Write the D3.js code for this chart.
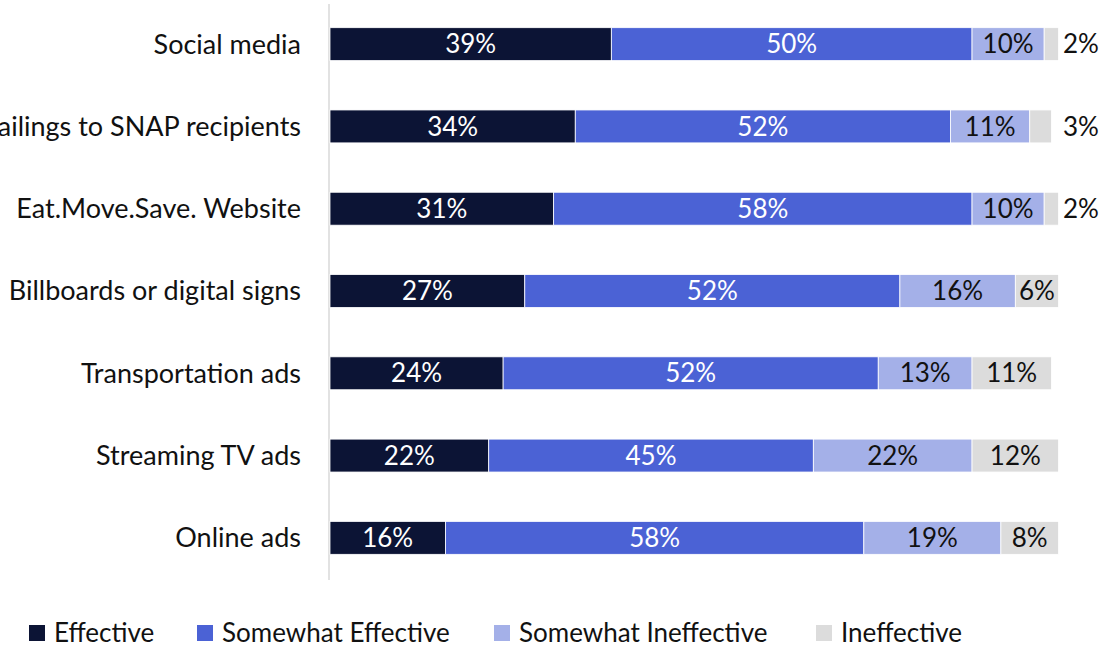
<!DOCTYPE html>
<html>
<head>
<meta charset="utf-8">
<script src="https://cdn.jsdelivr.net/npm/d3@7"></script>
<style>
  html, body { margin: 0; padding: 0; background: #fff; }
  svg { display: block; font-family: Lato, "Open Sans", sans-serif; }
</style>
</head>
<body>
<svg id="chart" width="1107" height="647"></svg>
<script>
// Channels rated for reaching SNAP audiences
const categories = [
  "Social media",
  "Direct mailings to SNAP recipients",
  "Eat.Move.Save. Website",
  "Billboards or digital signs",
  "Transportation ads",
  "Streaming TV ads",
  "Online ads"
];
const seriesNames = ["Effective", "Somewhat Effective", "Somewhat Ineffective", "Ineffective"];
const effective           = [39, 34, 31, 27, 24, 22, 16];
const somewhatEffective   = [50, 52, 58, 52, 52, 45, 58];
const somewhatIneffective = [10, 11, 10, 16, 13, 22, 19];
const ineffective         = [2, 3, 2, 6, 11, 12, 8];
const colors = ["#0c1435", "#4b62d5", "#a4b0e8", "#dcdcdc"];
const textColors = ["#ffffff", "#ffffff", "#111111", "#111111"];

const seriesValues = [effective, somewhatEffective, somewhatIneffective, ineffective];
const rows = categories.map((c, i) => {
  const r = { category: c };
  seriesNames.forEach((s, k) => r[s] = seriesValues[k][i]);
  return r;
});
const stacked = d3.stack().keys(seriesNames)(rows);

const svg = d3.select("#chart");
const xMax = 100.5;
const x = d3.scaleLinear().domain([0, xMax]).range([330, 1055]);
const y = d3.scaleBand().domain(categories).range([3, 579]).paddingInner(0.6).paddingOuter(0.3);

// category axis line
svg.append("line")
  .attr("x1", 329).attr("x2", 329)
  .attr("y1", 4).attr("y2", 580)
  .attr("stroke", "#d9d9d9").attr("stroke-width", 1.5);

// category labels
svg.append("g").selectAll("text")
  .data(categories).join("text")
  .attr("x", 301)
  .attr("y", d => y(d) + y.bandwidth() / 2)
  .attr("dy", "0.35em")
  .attr("text-anchor", "end")
  .attr("font-size", 27)
  .attr("fill", "#111")
  .text(d => d);

// stacked segments
const layers = svg.append("g").selectAll("g")
  .data(stacked).join("g")
  .attr("fill", (d, i) => colors[i]);

layers.selectAll("rect")
  .data(d => d.map(p => ({ p, cat: p.data.category })))
  .join("rect")
  .attr("x", d => x(d.p[0]))
  .attr("y", d => y(d.cat))
  .attr("width", d => x(d.p[1]) - x(d.p[0]))
  .attr("height", y.bandwidth())
  .attr("stroke", "#ffffff")
  .attr("stroke-width", 0.8);

// value labels: inside the segment when it fits, otherwise right of the bar
stacked.forEach((layer, k) => {
  svg.append("g").selectAll("text")
    .data(layer).join("text")
    .attr("font-size", 26)
    .attr("dy", "0.35em")
    .each(function(p) {
      const v = p[1] - p[0];
      const inside = v >= 5;
      const t = d3.select(this);
      const cy = y(p.data.category) + y.bandwidth() / 2;
      if (inside) {
        t.attr("x", (x(p[0]) + x(p[1])) / 2).attr("y", cy)
          .attr("text-anchor", "middle").attr("fill", textColors[k]);
      } else {
        t.attr("x", x(xMax) + 26).attr("y", cy)
          .attr("text-anchor", "middle").attr("fill", "#111");
      }
      t.text(v + "%");
    });
});

// legend
const legendX = [29, 197, 494, 816];
const legend = svg.append("g").selectAll("g")
  .data(seriesNames).join("g")
  .attr("transform", (d, i) => `translate(${legendX[i]},633)`);
legend.append("rect")
  .attr("x", 0).attr("y", -8).attr("width", 16).attr("height", 16)
  .attr("fill", (d, i) => colors[i]);
legend.append("text")
  .attr("x", 25).attr("y", 0).attr("dy", "0.35em")
  .attr("font-size", 26).attr("fill", "#111")
  .text(d => d);
</script>
</body>
</html>
